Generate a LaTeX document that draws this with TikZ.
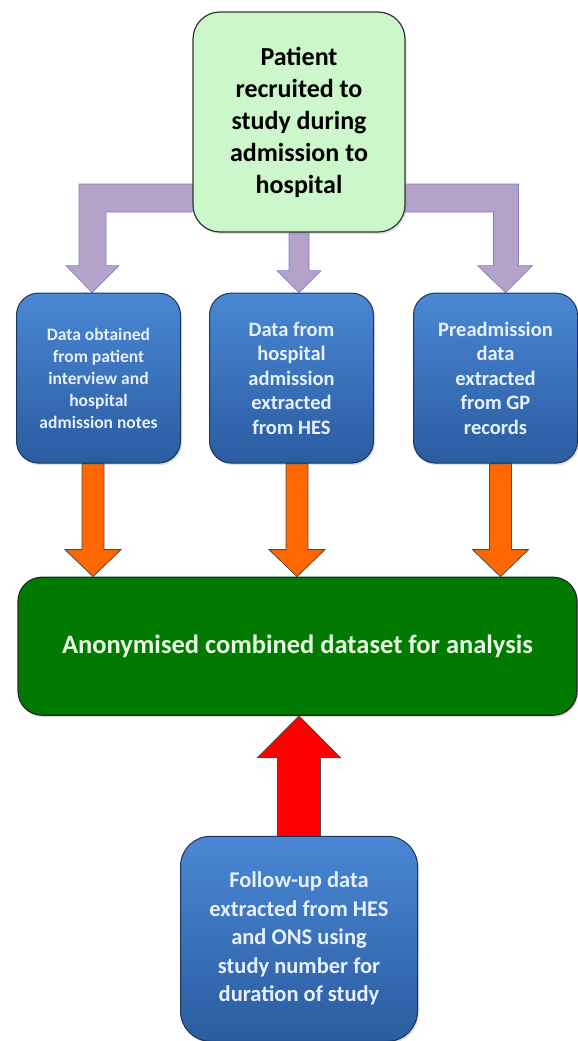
\documentclass[tikz,border=0pt]{standalone}
\usepackage{fontspec}
\setmainfont{Carlito}
\usetikzlibrary{calc}
\usetikzlibrary{positioning}
\usetikzlibrary{shadows}

\definecolor{mintgreen}{RGB}{204,247,202}
\definecolor{boxtop}{RGB}{74,135,212}
\definecolor{boxbottom}{RGB}{42,92,160}
\definecolor{boxline}{RGB}{30,52,88}
\definecolor{boxtext}{RGB}{230,240,255}
\definecolor{darkgreen}{RGB}{0,122,0}
\definecolor{greentext}{RGB}{232,250,225}
\definecolor{lavender}{RGB}{180,162,202}
\definecolor{lavenderline}{RGB}{128,128,190}
\definecolor{orangefill}{RGB}{255,104,0}
\definecolor{redfill}{RGB}{255,0,0}

\pgfdeclarelayer{background}
\pgfsetlayers{background,main}

% straight block arrow: style, start, tip, half shaft, half head, head length
\newcommand{\blockarrow}[6]{%
  \path[#1] ($(#2)+(-#4,0)$) -- ($(#3)!#6!(#2)+(-#4,0)$) -- ($(#3)!#6!(#2)+(-#5,0)$)
    -- (#3) -- ($(#3)!#6!(#2)+(#5,0)$) -- ($(#3)!#6!(#2)+(#4,0)$) -- ($(#2)+(#4,0)$) -- cycle;
}

\begin{document}
\begin{tikzpicture}

\tikzset{
    softshadow/.style={drop shadow={opacity=0.25, shadow xshift=1.5pt, shadow yshift=-2pt}},
    startbox/.style={draw=black!80, line width=1.2pt, fill=mintgreen, rounded corners=27pt,
        minimum width=212pt, minimum height=220pt, align=center, font=\bfseries\fontsize{26}{32}\selectfont, softshadow},
    sourcebox/.style={draw=boxline, line width=1pt, top color=boxtop, bottom color=boxbottom,
        rounded corners=22pt, minimum width=164pt, minimum height=170pt, align=center, text=boxtext, softshadow},
    databox/.style={draw=black!85, line width=1.2pt, fill=darkgreen, rounded corners=24pt,
        minimum width=559pt, minimum height=138pt, text=greentext, font=\bfseries\fontsize{26.5}{30}\selectfont, softshadow},
    purplearrow/.style={fill=lavender, draw=lavenderline, line width=0.6pt},
    orangearrow/.style={fill=orangefill, draw=black!70, line width=0.8pt},
    redarrow/.style={fill=redfill, draw=black!70, line width=0.8pt}
}

\useasboundingbox (0,0) rectangle (578pt,-1041pt);

%%%%%%%%%%%%%%%%%%%%%%%%%%%%%%%%%%%%%%%%%%%%%%%%%%%%%%%%%
%                       Boxes                           %
%%%%%%%%%%%%%%%%%%%%%%%%%%%%%%%%%%%%%%%%%%%%%%%%%%%%%%%%%

% Block patient
\node[startbox] (patient) at (299pt,-122pt) {Patient\\recruited to\\study during\\admission to\\hospital};

% Source blocks
\node[sourcebox, below=60pt of patient, xshift=-7.5pt, font=\bfseries\fontsize{20.5}{24.5}\selectfont] (hes)
    {Data from\\hospital\\admission\\extracted\\from HES};
\node[sourcebox, left=28pt of hes, font=\bfseries\fontsize{17.5}{22}\selectfont] (interview)
    {Data obtained\\from patient\\interview and\\hospital\\admission notes};
\node[sourcebox, right=39pt of hes, font=\bfseries\fontsize{20.5}{24.5}\selectfont] (gp)
    {Preadmission\\data\\extracted\\from GP\\records};

% Block combined
\node[databox, below=113pt of hes, xshift=6pt] (combined) {Anonymised combined dataset for analysis};

% Block follow-up
\node[sourcebox, below=120pt of combined, xshift=1.5pt, minimum width=237pt, minimum height=205pt,
    rounded corners=30pt, font=\bfseries\fontsize{22.5}{28.5}\selectfont] (followup)
    {Follow-up data\\extracted from HES\\and ONS using\\study number for\\duration of study};

%%%%%%%%%%%%%%%%%%%%%%%%%%%%%%%%%%%%%%%%%%%%%%%%%%%%%%%%%
%                       Arrows                          %
%%%%%%%%%%%%%%%%%%%%%%%%%%%%%%%%%%%%%%%%%%%%%%%%%%%%%%%%%

% arrow tips
\coordinate (lt) at ([xshift=-6.5pt]interview.north);
\coordinate (mt) at ([xshift=7.5pt]hes.north);
\coordinate (rt) at ([xshift=10pt]gp.north);
\coordinate (o1s) at ([xshift=-5.5pt]interview.south);
\coordinate (o1e) at (o1s |- combined.north);
\coordinate (o2s) at ([xshift=5.5pt]hes.south);
\coordinate (o2e) at (o2s |- combined.north);
\coordinate (o3s) at ([xshift=5pt]gp.south);
\coordinate (o3e) at (o3s |- combined.north);
\coordinate (rs) at (followup.north);
\coordinate (re) at (rs |- combined.south);

\begin{pgfonlayer}{background}

%%% Left Branch %%%
\path[purplearrow] let \p1 = (lt), \p2 = (patient.west) in
  (\x2, \y2-62pt) -- (\x1-13pt, \y2-62pt) -- (\x1-13pt, \y1+27pt) -- (\x1-26pt, \y1+27pt)
  -- (\x1, \y1) -- (\x1+27pt, \y1+27pt) -- (\x1+14pt, \y1+27pt) -- (\x1+14pt, \y2-90pt)
  -- (\x2, \y2-90pt) -- cycle;

%%% Middle Branch %%%
\blockarrow{purplearrow}{patient.south -| mt}{mt}{10pt}{22pt}{22pt}

%%% Right Branch %%%
\path[purplearrow] let \p1 = (rt), \p2 = (patient.east) in
  (\x2, \y2-62pt) -- (\x1+13pt, \y2-62pt) -- (\x1+13pt, \y1+27pt) -- (\x1+27pt, \y1+27pt)
  -- (\x1, \y1) -- (\x1-28pt, \y1+27pt) -- (\x1-12pt, \y1+27pt) -- (\x1-12pt, \y2-90pt)
  -- (\x2, \y2-90pt) -- cycle;

% into the dataset
\blockarrow{orangearrow}{o1s}{o1e}{11pt}{28pt}{27pt}
\blockarrow{orangearrow}{o2s}{o2e}{11pt}{28pt}{27pt}
\blockarrow{orangearrow}{o3s}{o3e}{11pt}{28pt}{27pt}

% follow-up
\blockarrow{redarrow}{rs}{re}{21.5pt}{41.5pt}{42pt}

\end{pgfonlayer}

\end{tikzpicture}
\end{document}
